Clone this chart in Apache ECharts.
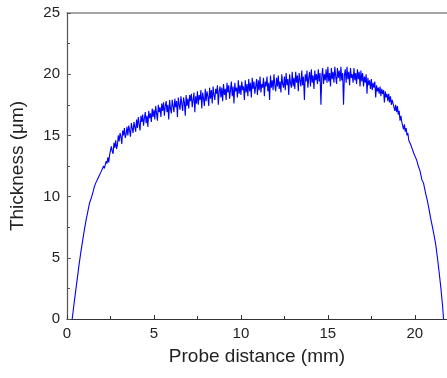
<!DOCTYPE html>
<html>
<head>
<meta charset="utf-8">
<script src="https://cdn.jsdelivr.net/npm/echarts@6/dist/echarts.min.js"></script>
<style>
  html, body { margin: 0; padding: 0; background: #fff; }
  #chart { width: 447px; height: 378px; }
</style>
</head>
<body>
<div id="chart"></div>
<script>
// probe position along the sample (mm)
var distance = [
  0.3, 0.4, 0.5, 0.6, 0.7, 0.8, 0.9, 1.0, 1.1, 1.2, 1.3, 1.4,
  1.5, 1.55, 1.6, 1.65, 1.7, 1.75, 1.8, 1.85, 1.9, 1.95,
  2.0, 2.05, 2.1, 2.15, 2.2, 2.25, 2.3, 2.35, 2.4, 2.45,
  2.5, 2.55, 2.6, 2.65, 2.7, 2.75, 2.8, 2.85, 2.9, 2.95,
  3.0, 3.05, 3.1, 3.15, 3.2, 3.25, 3.3, 3.35, 3.4, 3.45,
  3.5, 3.55, 3.6, 3.65, 3.7, 3.75, 3.8, 3.85, 3.9, 3.95,
  4.0, 4.05, 4.1, 4.15, 4.2, 4.25, 4.3, 4.35, 4.4, 4.45,
  4.5, 4.55, 4.6, 4.65, 4.7, 4.75, 4.8, 4.85, 4.9, 4.95,
  5.0, 5.05, 5.1, 5.15, 5.2, 5.25, 5.3, 5.35, 5.4, 5.45,
  5.5, 5.55, 5.6, 5.65, 5.7, 5.75, 5.8, 5.85, 5.9, 5.95,
  6.0, 6.05, 6.1, 6.15, 6.2, 6.25, 6.3, 6.35, 6.4, 6.45,
  6.5, 6.55, 6.6, 6.65, 6.7, 6.75, 6.8, 6.85, 6.9, 6.95,
  7.0, 7.05, 7.1, 7.15, 7.2, 7.25, 7.3, 7.35, 7.4, 7.45,
  7.5, 7.55, 7.6, 7.65, 7.7, 7.75, 7.8, 7.85, 7.9, 7.95,
  8.0, 8.05, 8.1, 8.15, 8.2, 8.25, 8.3, 8.35, 8.4, 8.45,
  8.5, 8.55, 8.6, 8.65, 8.7, 8.75, 8.8, 8.85, 8.9, 8.95,
  9.0, 9.05, 9.1, 9.15, 9.2, 9.25, 9.3, 9.35, 9.4, 9.45,
  9.5, 9.55, 9.6, 9.65, 9.7, 9.75, 9.8, 9.85, 9.9, 9.95,
  10.0, 10.05, 10.1, 10.15, 10.2, 10.25, 10.3, 10.35, 10.4, 10.45,
  10.5, 10.55, 10.6, 10.65, 10.7, 10.75, 10.8, 10.85, 10.9, 10.95,
  11.0, 11.05, 11.1, 11.15, 11.2, 11.25, 11.3, 11.35, 11.4, 11.45,
  11.5, 11.55, 11.6, 11.65, 11.7, 11.75, 11.8, 11.85, 11.9, 11.95,
  12.0, 12.05, 12.1, 12.15, 12.2, 12.25, 12.3, 12.35, 12.4, 12.45,
  12.5, 12.55, 12.6, 12.65, 12.7, 12.75, 12.8, 12.85, 12.9, 12.95,
  13.0, 13.05, 13.1, 13.15, 13.2, 13.25, 13.3, 13.35, 13.4, 13.45,
  13.5, 13.55, 13.6, 13.65, 13.7, 13.75, 13.8, 13.85, 13.9, 13.95,
  14.0, 14.05, 14.1, 14.15, 14.2, 14.25, 14.3, 14.35, 14.4, 14.45,
  14.5, 14.55, 14.6, 14.65, 14.7, 14.75, 14.8, 14.85, 14.9, 14.95,
  15.0, 15.05, 15.1, 15.15, 15.2, 15.25, 15.3, 15.35, 15.4, 15.45,
  15.5, 15.55, 15.6, 15.65, 15.7, 15.75, 15.8, 15.85, 15.9, 15.95,
  16.0, 16.05, 16.1, 16.15, 16.2, 16.25, 16.3, 16.35, 16.4, 16.45,
  16.5, 16.55, 16.6, 16.65, 16.7, 16.75, 16.8, 16.85, 16.9, 16.95,
  17.0, 17.05, 17.1, 17.15, 17.2, 17.25, 17.3, 17.35, 17.4, 17.45,
  17.5, 17.55, 17.6, 17.65, 17.7, 17.75, 17.8, 17.85, 17.9, 17.95,
  18.0, 18.05, 18.1, 18.15, 18.2, 18.25, 18.3, 18.35, 18.4, 18.45,
  18.5, 18.55, 18.6, 18.65, 18.7, 18.75, 18.8, 18.85, 18.9, 18.95,
  19.0, 19.05, 19.1, 19.15, 19.2, 19.25, 19.3, 19.35, 19.4, 19.45,
  19.5, 19.55, 19.6, 19.65, 19.7, 19.75, 19.8, 19.85, 19.9, 19.95,
  20.0, 20.1, 20.2, 20.3, 20.4, 20.5, 20.6, 20.7, 20.8, 20.9,
  21.0, 21.1, 21.2, 21.3, 21.4, 21.5, 21.6, 21.65
];

// measured thickness (um)
var thickness = [
  0, 1.2, 2.3, 3.4, 4.5, 5.5, 6.4, 7.3, 8.1, 8.8, 9.5, 9.9,
  10.4, 10.7, 10.8, 11.1, 11.0, 11.4, 11.3, 11.7, 11.6, 12.0,
  12.1, 11.9, 12.5, 12.3, 12.4, 12.9, 12.7, 13.2, 12.8, 13.4,
  13.4, 14.1, 13.7, 13.5, 14.4, 14.0, 14.6, 13.9, 14.2, 15.0,
  14.5, 15.2, 14.9, 14.3, 15.4, 15.0, 15.6, 14.8, 15.1, 15.7,
  15.0, 15.8, 15.4, 14.9, 16.0, 15.6, 15.2, 16.1, 15.7, 15.3,
  16.3, 15.6, 16.5, 15.9, 15.4, 16.6, 16.1, 16.7, 15.8, 16.4,
  16.9, 16.0, 16.6, 15.7, 17.0, 16.4, 16.8, 16.1, 17.2, 16.5,
  17.1, 16.3, 17.4, 16.8, 16.2, 17.5, 16.9, 17.3, 16.5, 17.6,
  17.0, 17.7, 16.6, 17.4, 17.8, 16.9, 17.5, 16.3, 17.9, 17.2,
  16.8, 17.9, 17.4, 16.9, 18.0, 17.3, 17.8, 16.5, 18.1, 17.5,
  17.1, 18.2, 17.6, 17.0, 18.1, 17.7, 16.6, 18.3, 17.4, 18.0,
  17.2, 18.3, 17.8, 18.4, 17.3, 17.9, 18.5, 16.9, 18.2, 17.6,
  18.6, 17.5, 18.3, 17.9, 18.7, 17.2, 18.5, 18.0, 17.4, 18.8,
  17.8, 18.6, 18.2, 17.4, 18.9, 18.0, 18.7, 17.6, 19.0, 18.3,
  17.9, 18.8, 18.4, 19.1, 17.5, 18.6, 19.0, 18.1, 18.9, 17.8,
  19.2, 18.3, 18.8, 17.9, 19.3, 18.5, 19.1, 18.0, 18.7, 19.4,
  18.2, 19.0, 17.6, 19.3, 18.6, 18.9, 18.1, 19.5, 18.4, 19.1,
  18.3, 19.4, 18.7, 19.0, 17.9, 19.5, 18.5, 19.2, 18.2, 19.6,
  18.6, 19.3, 18.1, 19.7, 18.8, 19.4, 18.4, 19.0, 19.6, 18.3,
  19.5, 18.7, 19.8, 18.5, 19.2, 18.9, 19.7, 18.2, 19.4, 19.0,
  19.8, 18.6, 19.3, 17.9, 19.9, 18.9, 19.5, 18.7, 20.0, 19.1,
  18.6, 19.7, 19.0, 19.9, 18.8, 19.4, 18.5, 20.0, 19.2, 18.9,
  19.8, 18.7, 20.1, 19.1, 19.6, 18.3, 20.0, 19.3, 18.9, 20.2,
  19.0, 19.7, 18.8, 20.2, 19.3, 19.9, 18.6, 20.1, 19.5, 19.0,
  20.3, 19.1, 19.8, 17.9, 20.0, 19.4, 20.3, 18.9, 19.7, 20.2,
  19.0, 20.4, 19.3, 19.9, 18.8, 20.3, 19.5, 20.0, 19.2, 20.4,
  19.4, 20.1, 17.5, 19.8, 20.5, 19.2, 20.0, 19.5, 20.4, 19.3,
  20.6, 19.4, 20.1, 19.0, 20.5, 19.6, 20.2, 19.3, 20.6, 19.8,
  19.2, 20.5, 19.7, 20.3, 19.4, 20.6, 19.5, 20.1, 17.5, 19.9,
  20.4, 19.3, 20.6, 19.6, 20.2, 19.1, 20.5, 19.7, 20.0, 19.3,
  20.5, 19.5, 20.1, 19.2, 20.4, 19.6, 20.2, 19.0, 20.3, 19.4,
  20.1, 19.0, 19.8, 19.3, 20.0, 18.4, 19.7, 19.1, 19.5, 18.8,
  19.6, 18.7, 19.3, 18.9, 19.4, 18.1, 19.1, 18.6, 18.9, 18.4,
  19.0, 18.2, 18.8, 18.4, 18.7, 17.7, 18.6, 18.1, 18.4, 17.8,
  18.4, 17.7, 18.2, 17.5, 17.9, 17.6, 17.7, 17.0, 17.5, 16.9,
  17.4, 16.7, 17.0, 16.2, 16.6, 16.1, 16.2, 15.5, 15.9, 15.3,
  15.6, 15.0, 15.2, 14.6, 14.7, 14.3, 14.3, 13.9, 13.8, 13.5,
  13.4, 13.0, 12.5, 12.1, 11.4, 11.1, 10.4, 9.8, 9.1, 8.3,
  7.6, 6.9, 6.1, 5.0, 3.8, 2.5, 1.0, 0
];

var xTicks = [0, 5, 10, 15, 20];
var yTicks = [0, 5, 10, 15, 20, 25];

var points = distance.map(function (d, i) { return [d, thickness[i]]; });

var chart = echarts.init(document.getElementById('chart'));
chart.setOption({
  animation: false,
  backgroundColor: '#fff',
  textStyle: { fontFamily: 'Arial, "Liberation Sans", sans-serif' },
  grid: { left: 67, right: 0, top: 13, bottom: 59 },
  xAxis: [
    {
      type: 'value',
      min: xTicks[0],
      max: 21.85,
      interval: 5,
      name: 'Probe distance (mm)',
      nameLocation: 'middle',
      nameGap: 28,
      nameTextStyle: { fontSize: 19, color: '#222' },
      axisLine: { lineStyle: { color: '#333', width: 1.2 } },
      axisTick: { inside: true, length: 4, lineStyle: { color: '#333' } },
      minorTick: { show: true, splitNumber: 2, length: 3, lineStyle: { color: '#333' } },
      axisLabel: {
        fontSize: 15, color: '#222', margin: 7, showMaxLabel: false,
        formatter: function (v) { return xTicks.indexOf(v) >= 0 ? String(v) : ''; }
      },
      splitLine: { show: false }
    },
    {
      type: 'value',
      position: 'top',
      min: 0,
      max: 21.85,
      axisLine: { show: true, lineStyle: { color: '#888', width: 1.5 } },
      axisTick: { show: false },
      axisLabel: { show: false },
      splitLine: { show: false }
    }
  ],
  yAxis: {
    type: 'value',
    min: yTicks[0],
    max: yTicks[yTicks.length - 1],
    interval: 5,
    name: 'Thickness (μm)',
    nameLocation: 'middle',
    nameGap: 40,
    nameTextStyle: { fontSize: 19, color: '#222' },
    axisLine: { show: true, lineStyle: { color: '#555', width: 1.2 } },
    axisTick: { show: true, inside: true, length: 4, lineStyle: { color: '#555' } },
    minorTick: { show: true, splitNumber: 2, length: 3, lineStyle: { color: '#555' } },
    axisLabel: { fontSize: 15, color: '#222', margin: 7 },
    splitLine: { show: false }
  },
  series: [
    {
      type: 'line',
      data: points,
      showSymbol: false,
      symbol: 'none',
      lineStyle: { color: '#0000ff', width: 1.1 },
      clip: true
    }
  ]
});
</script>
</body>
</html>
